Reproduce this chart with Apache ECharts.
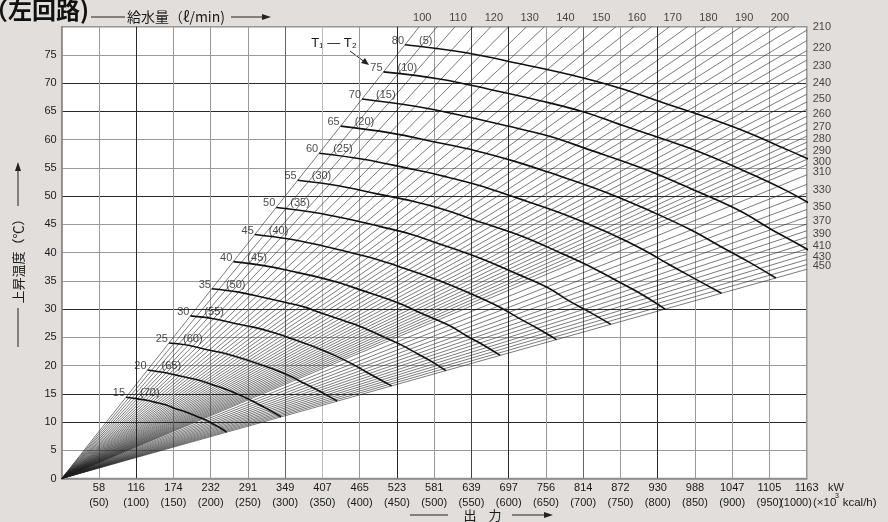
<!DOCTYPE html>
<html><head><meta charset="utf-8">
<script src="https://cdn.jsdelivr.net/npm/echarts@6/dist/echarts.min.js"></script>
<style>html,body{margin:0;padding:0;background:#e2dedb;}#c{width:888px;height:522px;}</style>
</head><body><div id="c"></div>
<script>
// ---- data ----
const kwLabels = ['58','116','174','232','291','349','407','465','523','581','639','697','756','814','872','930','988','1047','1105','1163'];
const flowRates = [100,105,110,115,120,125,130,135,140,145,150,155,160,165,170,175,180,185,190,195,200,205,210,215,220,225,230,235,240,245,250,255,260,265,270,275,280,285,290,295,300,310,320,330,340,350,360,370,380,390,400,410,420,430,440,450];
const topFlowLabels = [100,110,120,130,140,150,160,170,180,190,200];
const rightFlowLabels = [210,220,230,240,250,260,270,280,290,300,310,330,350,370,390,410,430,450];
const curveDiffs = [80,75,70,65,60,55,50,45,40,35,30,25,20,15];
const inletTemps = [5,10,15,20,25,30,35,40,45,50,55,60,65,70];
const curveFlows = [100,120,140,160,180,200,240,280,320,360,400,450];
const curve80 = [76.8, 75.4, 73.4, 71.4, 69.2, 66.8, 62.4, 58.1, 54.2];
const curve75 = [72.0, 70.7, 68.8, 66.9, 64.9, 62.6, 58.5, 54.5, 50.8, 47.3];
const curve70 = [67.2, 65.9, 64.2, 62.4, 60.6, 58.5, 54.6, 50.8, 47.4, 44.1, 41.3, 38.2];
const curve65 = [62.4, 61.2, 59.6, 58.0, 56.2, 54.3, 50.7, 47.2, 44.0, 41.0, 38.4, 35.5];
const curve60 = [57.6, 56.5, 55.0, 53.5, 51.9, 50.1, 46.8, 43.6, 40.6, 37.8, 35.4, 32.8];
const curve55 = [52.8, 51.8, 50.4, 49.1, 47.6, 45.9, 42.9, 39.9, 37.2, 34.7, 32.5, 30.0];
const curve50 = [48.0, 47.1, 45.9, 44.6, 43.3, 41.8, 39.0, 36.3, 33.9, 31.5, 29.5, 27.3];
const curve45 = [43.2, 42.4, 41.3, 40.1, 38.9, 37.6, 35.1, 32.7, 30.5, 28.4, 26.6, 24.6];
const curve40 = [38.4, 37.7, 36.7, 35.7, 34.6, 33.4, 31.2, 29.0, 27.1, 25.2, 23.6, 21.8];
const curve35 = [33.6, 33.0, 32.1, 31.2, 30.3, 29.2, 27.3, 25.4, 23.7, 22.1, 20.7, 19.1];
const curve30 = [28.8, 28.3, 27.5, 26.8, 26.0, 25.1, 23.4, 21.8, 20.3, 18.9, 17.7, 16.4];
const curve25 = [24.0, 23.6, 22.9, 22.3, 21.6, 20.9, 19.5, 18.2, 16.9, 15.8, 14.8, 13.7];
const curve20 = [19.2, 18.8, 18.3, 17.8, 17.3, 16.7, 15.6, 14.5, 13.5, 12.6, 11.8, 10.9];
const curve15 = [14.4, 14.1, 13.8, 13.4, 13.0, 12.5, 11.7, 10.9, 10.2, 9.5, 8.9, 8.2];
const curveTemps = [curve80,curve75,curve70,curve65,curve60,curve55,curve50,curve45,curve40,curve35,curve30,curve25,curve20,curve15];

// ---- helpers (nomograph relation: output[10^3 kcal/h] = 0.06 * flow[l/min] * rise[°C]) ----
const X_MAX = 1000, Y_MAX = 80;
function flowEnd(q){ const p = 0.06*q*Y_MAX; return p <= X_MAX ? [p, Y_MAX] : [X_MAX, X_MAX/(0.06*q)]; }

const FONT = '"Liberation Sans", Arial, sans-serif';
const JP = '"Noto Sans CJK JP", sans-serif';
const gray='#9a9a9a', dark='#2a2a2a', mid='#666';
const xColors = [gray,gray,dark,gray,gray,gray,mid,'#bbb',gray,dark,gray,'#444',dark,gray,mid,gray,dark,gray,gray,gray,gray];
const yColors = [gray,gray,dark,dark,gray,gray,dark,gray,gray,gray,dark,gray,gray,dark,dark,gray,gray];

const series = [];
series.push({
  type:'lines', coordinateSystem:'cartesian2d', silent:true, polyline:false,
  lineStyle:{color:'#222', width:0.6, opacity:1},
  data: flowRates.map(q => ({coords:[[0,0], flowEnd(q)]})),
  animation:false, z:3
});
curveTemps.forEach((arr,i) => {
  series.push({
    type:'line', silent:true, smooth:0.4, symbol:'none', clip:true,
    lineStyle:{color:'#111', width:1.6},
    data: arr.map((t,j) => [0.06*curveFlows[j]*t, t]),
    animation:false, z:4
  });
});
// curve labels
series.push({
  type:'scatter', symbolSize:0, clip:false, silent:true, animation:false, z:6,
  data: curveTemps.map((arr,i)=>[0.06*curveFlows[0]*arr[0], arr[0], curveDiffs[i]]),
  label:{show:true, position:'left', distance:1, offset:[0,-4], formatter:p=>String(p.value[2]), fontFamily:FONT, fontSize:11, color:'#1a1a1a'}
});
series.push({
  type:'scatter', symbolSize:0, clip:false, silent:true, animation:false, z:6,
  data: curveTemps.map((arr,i)=>[0.06*curveFlows[0]*arr[0], arr[0], inletTemps[i]]),
  label:{show:true, position:'right', distance:14, offset:[0,-4], formatter:p=>'('+p.value[2]+')', fontFamily:FONT, fontSize:11, color:'#1a1a1a'}
});
// flow labels
series.push({
  type:'scatter', symbolSize:0, clip:false, silent:true, animation:false, z:6,
  data: topFlowLabels.map(q=>flowEnd(q).concat([q])),
  label:{show:true, position:'top', distance:3, offset:[3,0], formatter:p=>String(p.value[2]), fontFamily:FONT, fontSize:11, color:'#1a1a1a'}
});
series.push({
  type:'scatter', symbolSize:0, clip:false, silent:true, animation:false, z:6,
  data: rightFlowLabels.map(q=>flowEnd(q).concat([q])),
  label:{show:true, position:'right', distance:6, offset:[0,-3], formatter:p=>String(p.value[2]), fontFamily:FONT, fontSize:11, color:'#1a1a1a'}
});

const chart = echarts.init(document.getElementById('c'), null, {renderer:'canvas'});
chart.setOption({
  backgroundColor:'#e2dedb',
  animation:false,
  grid:{left:61.7, top:26.7, width:745, height:451.8, show:true, backgroundColor:'#fff', borderColor:'#8a8a8a', borderWidth:1.5, containLabel:false},
  xAxis:{type:'value', min:0, max:X_MAX, interval:50,
    axisLine:{show:true, lineStyle:{color:'#8a8a8a', width:1.5}}, axisTick:{show:false},
    splitLine:{show:true, lineStyle:{color:xColors, width:1}},
    axisLabel:{margin:2, color:'#1a1a1a', fontFamily:FONT, fontSize:11, lineHeight:15, showMaxLabel:true, showMinLabel:true, hideOverlap:false,
      formatter:v=> v===0 ? '' : (v===X_MAX ? kwLabels[v/50-1]+'\n ' : kwLabels[v/50-1]+'\n('+v+')')}
  },
  yAxis:{type:'value', min:0, max:Y_MAX, interval:5,
    axisLine:{show:true, lineStyle:{color:'#8a8a8a', width:1.5}}, axisTick:{show:false},
    splitLine:{show:true, lineStyle:{color:yColors, width:1}},
    axisLabel:{margin:5, color:'#1a1a1a', fontFamily:FONT, fontSize:11, formatter:v=> v===Y_MAX ? '' : String(v)}
  },
  graphic:[
    {type:'text', x:89, y:10, style:{text:'（左回路)', font:'bold 24px '+JP, fill:'#111', align:'right', verticalAlign:'middle'}},
    {type:'line', shape:{x1:91,y1:17,x2:125,y2:17}, style:{stroke:'#222', lineWidth:1}},
    {type:'text', x:127, y:17, style:{text:'給水量（ℓ/min)', font:'14px '+JP, fill:'#1a1a1a', align:'left', verticalAlign:'middle'}},
    {type:'line', shape:{x1:231,y1:17,x2:266,y2:17}, style:{stroke:'#222', lineWidth:1}},
    {type:'polygon', shape:{points:[[271,17],[262,14],[262,20]]}, style:{fill:'#222'}},
    // y axis name
    {type:'line', shape:{x1:18,y1:347,x2:18,y2:308}, style:{stroke:'#222', lineWidth:1}},
    {type:'text', x:18, y:258, rotation:Math.PI/2, style:{text:'上昇温度（℃）', font:'13px '+JP, fill:'#1a1a1a', align:'center', verticalAlign:'middle'}},
    {type:'line', shape:{x1:18,y1:206,x2:18,y2:168}, style:{stroke:'#222', lineWidth:1}},
    {type:'polygon', shape:{points:[[18,162],[15,171],[21,171]]}, style:{fill:'#222'}},
    // x axis name
    {type:'line', shape:{x1:410,y1:515,x2:448,y2:515}, style:{stroke:'#222', lineWidth:1}},
    {type:'text', x:470, y:515, style:{text:'出', font:'13px '+JP, fill:'#1a1a1a', align:'center', verticalAlign:'middle'}},
    {type:'text', x:495, y:515, style:{text:'力', font:'13px '+JP, fill:'#1a1a1a', align:'center', verticalAlign:'middle'}},
    {type:'line', shape:{x1:512,y1:515,x2:548,y2:515}, style:{stroke:'#222', lineWidth:1}},
    {type:'polygon', shape:{points:[[553,515],[544,512],[544,518]]}, style:{fill:'#222'}},
    // last output tick (kcal) and units
    {type:'text', x:796, y:503, style:{text:'(1000)', font:'11px '+FONT, fill:'#1a1a1a', align:'center', verticalAlign:'middle'}},
    {type:'text', x:828, y:488, style:{text:'kW', font:'11px '+FONT, fill:'#1a1a1a', align:'left', verticalAlign:'middle'}},
    {type:'text', x:813, y:503, style:{text:'(×10  kcal/h)', font:'11.5px '+FONT, fill:'#1a1a1a', align:'left', verticalAlign:'middle'}},
    {type:'text', x:837, y:496, style:{text:'3', font:'7px '+FONT, fill:'#1a1a1a', align:'center', verticalAlign:'middle'}},
    // T1-T2 annotation
    {type:'text', x:334, y:43, style:{text:'T₁ — T₂', font:'13px '+FONT, fill:'#1a1a1a', align:'center', verticalAlign:'middle'}},
    {type:'line', shape:{x1:350,y1:51,x2:366,y2:63}, style:{stroke:'#222', lineWidth:1}},
    {type:'polygon', shape:{points:[[369,65],[361,63],[365,58]]}, style:{fill:'#222'}}
  ],
  series: series
});
</script></body></html>
